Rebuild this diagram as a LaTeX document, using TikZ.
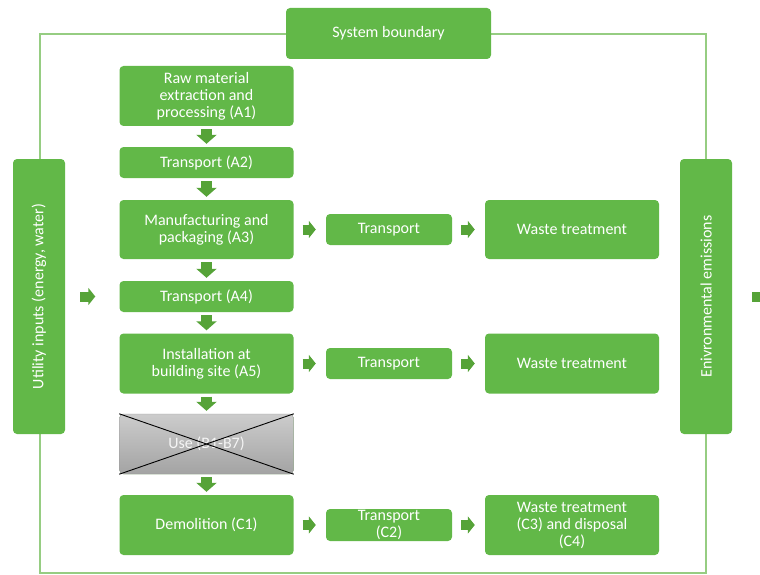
\documentclass[tikz,border=0pt]{standalone}
\usepackage{fontspec}
\setmainfont{Carlito}
\usetikzlibrary{arrows.meta}
\definecolor{boxgreen}{RGB}{98,184,72}
\definecolor{arrgreen}{RGB}{86,163,56}
\definecolor{linegreen}{RGB}{150,205,130}
\begin{document}
\begin{tikzpicture}[x=1pt, y=-1pt,
  box/.style={fill=boxgreen, rounded corners=4pt, text=white, align=center, inner sep=0pt, font=\fontsize{16}{17}\selectfont},
  downarr/.style={draw=arrgreen, line width=11pt, -{Triangle[width=20pt,length=9pt]}, shorten <=3pt, shorten >=3pt},
  sidearr/.style={draw=arrgreen, line width=10pt, -{Triangle[width=17pt,length=7pt]}, shorten <=9pt, shorten >=10pt}]
\useasboundingbox (0,0) rectangle (760,575);
\draw[linegreen, line width=1.2pt] (40,34) rectangle (706,573);
\node[box, minimum width=205pt, minimum height=51pt] (sys) at (388.5,33.5) {System boundary};
\node[box, minimum width=52pt, minimum height=275pt] (util) at (39,296.5) {\rotatebox{90}{Utility inputs (energy, water)}};
\node[box, minimum width=52pt, minimum height=275pt] (emis) at (706,296.5) {\rotatebox{90}{Enivronmental emissions}};
\node[box, minimum width=174pt, minimum height=60pt] (a1) at (206.5,96) {Raw material\\extraction and\\processing (A1)};
\node[box, minimum width=174pt, minimum height=31pt] (a2) at (206.5,162.5) {Transport (A2)};
\node[box, minimum width=174pt, minimum height=59pt] (a3) at (206.5,229.5) {Manufacturing and\\packaging (A3)};
\node[box, minimum width=174pt, minimum height=31pt] (a4) at (206.5,296.5) {Transport (A4)};
\node[box, minimum width=174pt, minimum height=60pt] (a5) at (206.5,363.5) {Installation at\\building site (A5)};
\node[box, top color=gray!40, bottom color=gray!72, draw=gray!80, text=gray!8, minimum width=174pt, minimum height=60pt] (use) at (206.5,444) {Use (B1-B7)};
\draw[black, line width=0.9pt] (use.north west) -- (use.south east);
\draw[black, line width=0.9pt] (use.south west) -- (use.north east);
\node[box, minimum width=174pt, minimum height=60pt] (c1) at (206.5,525) {Demolition (C1)};
\node[box, minimum width=126pt, minimum height=31pt] (t1) at (389,229.5) {Transport};
\node[box, minimum width=126pt, minimum height=31pt] (t2) at (389,363.5) {Transport};
\node[box, minimum width=126pt, minimum height=32pt] (t3) at (389,525) {Transport\\(C2)};
\node[box, minimum width=174pt, minimum height=59pt] (w1) at (572,229.5) {Waste treatment};
\node[box, minimum width=174pt, minimum height=60pt] (w2) at (572,363.5) {Waste treatment};
\node[box, minimum width=174pt, minimum height=60pt] (w3) at (572,525) {Waste treatment\\(C3) and disposal\\(C4)};
\coordinate (out) at (772,296.5);
\draw[downarr] (a1) -- (a2);
\draw[downarr] (a2) -- (a3);
\draw[downarr] (a3) -- (a4);
\draw[downarr] (a4) -- (a5);
\draw[downarr] (a5) -- (use);
\draw[downarr] (use) -- (c1);
\draw[sidearr] (a3) -- (t1);
\draw[sidearr] (t1) -- (w1);
\draw[sidearr] (a5) -- (t2);
\draw[sidearr] (t2) -- (w2);
\draw[sidearr] (c1) -- (t3);
\draw[sidearr] (t3) -- (w3);
\draw[sidearr, shorten <=15pt, shorten >=24pt] (util) -- (a4);
\draw[sidearr, shorten <=20pt, shorten >=0pt] (emis) -- (out);
\end{tikzpicture}
\end{document}
